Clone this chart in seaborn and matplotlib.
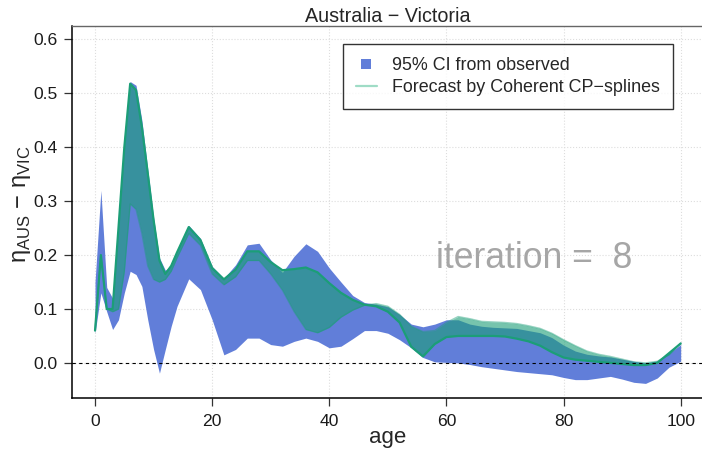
import numpy as np
import pandas as pd
import matplotlib
matplotlib.use("Agg")
import matplotlib.pyplot as plt
import seaborn as sns
from matplotlib.lines import Line2D

# ages on the x axis (yearly up to 14, then every 2 years)
age = [0, 1, 2, 3, 4, 5, 6, 7, 8, 9, 10, 11, 12, 13, 14,
       16, 18, 20, 22, 24, 26, 28, 30, 32, 34, 36, 38, 40, 42, 44,
       46, 48, 50, 52, 54, 56, 58, 60, 62, 64, 66, 68, 70, 72, 74,
       76, 78, 80, 82, 84, 86, 88, 90, 92, 94, 96, 98, 100]

# 95% CI from observed
ci_upper = [0.15, 0.32, 0.14, 0.12, 0.26, 0.42, 0.522, 0.515, 0.45, 0.36, 0.27, 0.195, 0.172, 0.18, 0.207,
            0.255, 0.231, 0.179, 0.157, 0.182, 0.219, 0.222, 0.191, 0.168, 0.198, 0.221, 0.207, 0.176, 0.15, 0.125,
            0.112, 0.109, 0.104, 0.09, 0.072, 0.067, 0.072, 0.08, 0.08, 0.072, 0.068, 0.066, 0.065, 0.064, 0.06,
            0.056, 0.047, 0.033, 0.022, 0.016, 0.013, 0.011, 0.007, 0.003, 0.0, 0.004, 0.018, 0.034]
ci_lower = [0.055, 0.13, 0.095, 0.062, 0.08, 0.13, 0.17, 0.164, 0.142, 0.08, 0.025, -0.019, 0.025, 0.068, 0.105,
            0.156, 0.136, 0.08, 0.015, 0.025, 0.046, 0.046, 0.034, 0.031, 0.04, 0.046, 0.04, 0.028, 0.031, 0.045,
            0.06, 0.06, 0.055, 0.043, 0.028, 0.01, 0.002, 0.001, 0.0, -0.003, -0.007, -0.01, -0.013, -0.016, -0.018,
            -0.02, -0.022, -0.027, -0.031, -0.031, -0.028, -0.025, -0.03, -0.036, -0.038, -0.028, -0.008, 0.003]

# forecast curves by coherent CP-splines (first and last of the bundle)
fc_first = [0.06, 0.2, 0.1, 0.1, 0.25, 0.4, 0.518, 0.506, 0.438, 0.352, 0.265, 0.19, 0.165, 0.18, 0.205,
            0.252, 0.228, 0.176, 0.155, 0.173, 0.207, 0.207, 0.187, 0.172, 0.174, 0.177, 0.168, 0.148, 0.13, 0.117,
            0.108, 0.105, 0.095, 0.075, 0.03, 0.012, 0.035, 0.048, 0.05, 0.05, 0.05, 0.05, 0.049, 0.045, 0.04,
            0.032, 0.02, 0.01, 0.006, 0.004, 0.002, 0.0, -0.002, -0.004, -0.004, 0.0, 0.018, 0.036]
fc_last = [0.06, 0.2, 0.1, 0.095, 0.1, 0.17, 0.295, 0.285, 0.24, 0.18, 0.155, 0.15, 0.155, 0.17, 0.195,
           0.24, 0.218, 0.165, 0.145, 0.16, 0.19, 0.19, 0.165, 0.135, 0.095, 0.062, 0.056, 0.066, 0.085, 0.098,
           0.107, 0.11, 0.105, 0.09, 0.068, 0.058, 0.06, 0.075, 0.086, 0.082, 0.077, 0.076, 0.075, 0.073, 0.069,
           0.064, 0.055, 0.043, 0.032, 0.022, 0.016, 0.012, 0.007, 0.002, 0.0, 0.003, 0.015, 0.037]

x_ticks = [0, 20, 40, 60, 80, 100]
y_ticks = [0.0, 0.1, 0.2, 0.3, 0.4, 0.5, 0.6]

blue = "#617ed9"
green_dark = "#1b9e77"

sns.set_style("white")
plt.rcParams['font.family'] = ['Liberation Sans', 'DejaVu Sans']

first_df = pd.DataFrame({'age': age, 'value': fc_first})
last_df = pd.DataFrame({'age': age, 'value': fc_last})

fig = plt.figure(figsize=(7.02, 4.57), dpi=100)
ax = fig.add_axes([0.102, 0.1285, 0.901, 0.8153])

# CI band and forecast bundle
ax.fill_between(age, ci_lower, ci_upper, color=blue, lw=0, zorder=1)
ax.fill_between(age, fc_first, fc_last, color=green_dark, alpha=0.6, lw=0, zorder=2)
sns.lineplot(data=last_df, x='age', y='value', color=green_dark, alpha=0.45,
             linewidth=1.0, errorbar=None, ax=ax, zorder=3)
sns.lineplot(data=first_df, x='age', y='value', color=green_dark,
             linewidth=1.6, errorbar=None, ax=ax, zorder=3)
ax.axhline(0, color='black', lw=0.8, ls=(0, (3, 3)), zorder=4)

ax.set_xlim(-4, 104)
ax.set_ylim(-0.0656, 0.6256)
ax.set_xticks(x_ticks)
ax.set_yticks(y_ticks)
ax.set_yticklabels([f"{v:.1f}" for v in y_ticks])
ax.grid(True, color='#dddddd', ls=':', lw=0.8)
ax.set_axisbelow(True)
ax.tick_params(axis='both', direction='out', length=5.5, width=0.9, color='#333333',
               labelsize=12.6, labelcolor='#1a1a1a', left=True, bottom=True)
ax.tick_params(axis='y', pad=4.5)
ax.tick_params(axis='x', pad=5.5)

for side in ['left', 'bottom']:
    ax.spines[side].set_color('black')
    ax.spines[side].set_linewidth(1.1)
ax.spines['top'].set_color('#666666')
ax.spines['top'].set_linewidth(1.0)
ax.spines['right'].set_visible(False)

ax.set_title('Australia − Victoria', fontsize=14.2, pad=2.5)
ax.set_xlabel('age', fontsize=16, va='baseline')
ax.xaxis.set_label_coords(0.5, -0.12)
ax.set_ylabel(r'η$_\mathregular{AUS}$ − η$_\mathregular{VIC}$', fontsize=17)
ax.yaxis.set_label_coords(-0.061, 0.52)

ax.text(75, 0.176, 'iteration =  8', fontsize=25.6, color='#a6a6a6',
        ha='center', va='baseline', zorder=5)

handles = [
    Line2D([], [], marker='s', ls='none', markersize=7.5, color=blue, markeredgewidth=0),
    Line2D([], [], color='#9fdcc6', lw=1.6),
]
labels = ['95% CI from observed', 'Forecast by Coherent CP−splines']
leg = ax.legend(handles, labels, loc='upper left', bbox_to_anchor=(0.4284, 0.950),
                borderaxespad=0, fontsize=12.9, frameon=True, fancybox=False,
                edgecolor='black', borderpad=0.73, labelspacing=0.25,
                handlelength=1.2, handletextpad=0.85)
leg.get_frame().set_linewidth(1.0)
leg.set_zorder(6)

fig.savefig('out.png', dpi=100)
